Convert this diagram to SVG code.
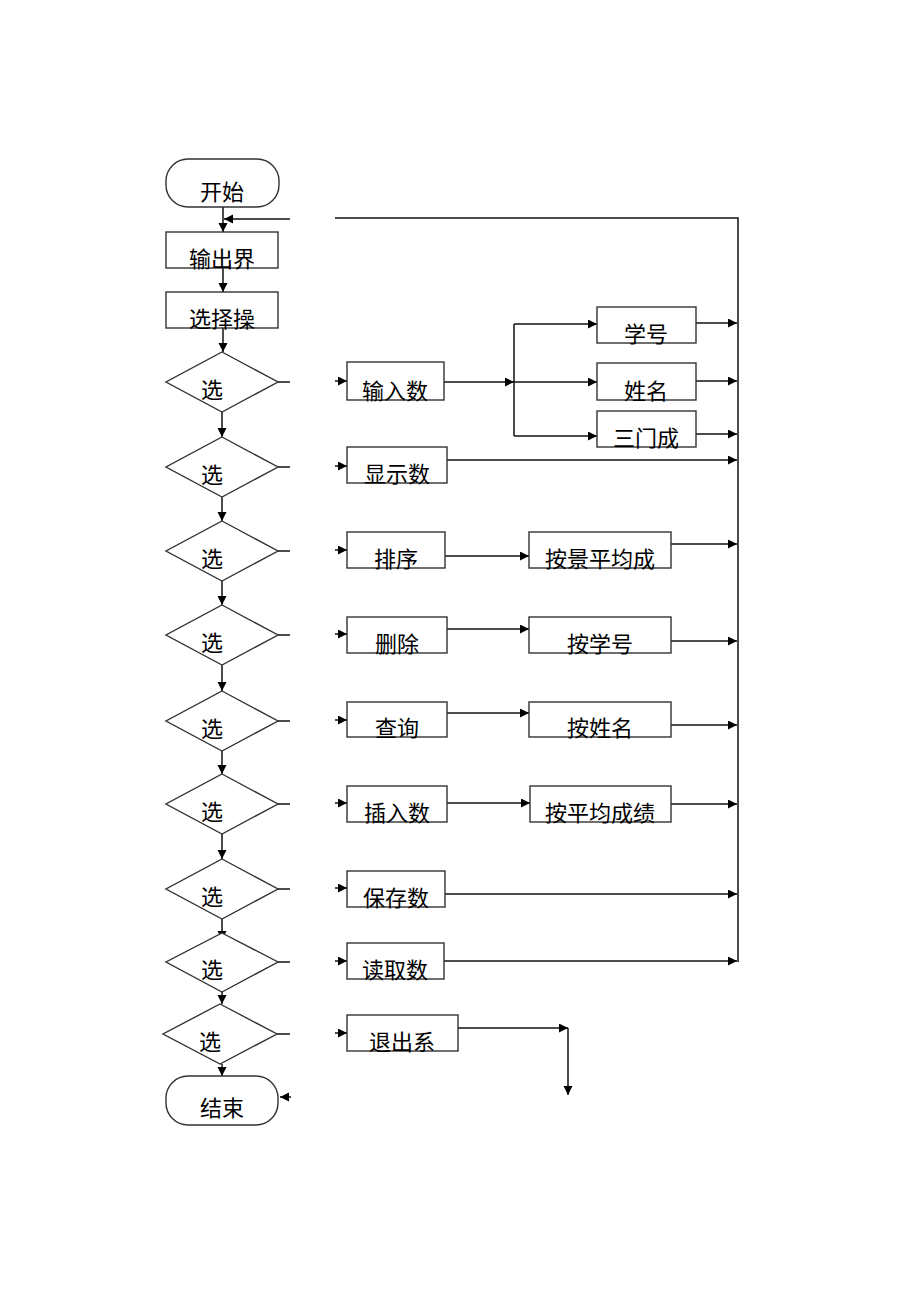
<svg xmlns="http://www.w3.org/2000/svg" width="920" height="1302" viewBox="0 0 920 1302">
<style>
.box{fill:#fff;stroke:#333;stroke-width:1.4}
.t{font-family:"Liberation Sans","Noto Sans CJK SC",sans-serif;font-size:22px;fill:#000;text-anchor:middle}
.c{fill:none;stroke:#111;stroke-width:1.5}
</style>
<defs>
<marker id="a" markerUnits="userSpaceOnUse" markerWidth="11" markerHeight="10" refX="9" refY="4.5" orient="auto"><path d="M0,0 L9,4.5 L0,9 z" fill="#000"/></marker>
</defs>
<rect width="920" height="1302" fill="#fff"/>
<g id="connectors">
<path class="c" marker-end="url(#a)" d="M223,207 L223,232"/>
<path class="c" marker-end="url(#a)" d="M223,268 L223,292"/>
<path class="c" marker-end="url(#a)" d="M223,328 L223,352"/>
<path class="c" marker-end="url(#a)" d="M222,412 L222,437"/>
<path class="c" marker-end="url(#a)" d="M222,497 L222,521"/>
<path class="c" marker-end="url(#a)" d="M222,581 L222,605"/>
<path class="c" marker-end="url(#a)" d="M222,665 L222,691"/>
<path class="c" marker-end="url(#a)" d="M222,751 L222,774"/>
<path class="c" marker-end="url(#a)" d="M222,834 L222,859"/>
<path class="c" marker-end="url(#a)" d="M222,919 L222,940"/>
<path class="c" marker-end="url(#a)" d="M222,992 L222,1004"/>
<path class="c" marker-end="url(#a)" d="M222,1064 L222,1076"/>
<path class="c" d="M278,382 L290,382 M278,467 L290,467 M278,551 L290,551 M278,635 L290,635 M278,721 L290,721 M278,804 L290,804 M278,889 L290,889 M278,962 L290,962 M277,1034 L290,1034"/>
<path class="c" marker-end="url(#a)" d="M335,381 L347,381"/>
<path class="c" marker-end="url(#a)" d="M335,466 L347,466"/>
<path class="c" marker-end="url(#a)" d="M335,550 L347,550"/>
<path class="c" marker-end="url(#a)" d="M335,634 L347,634"/>
<path class="c" marker-end="url(#a)" d="M335,720 L347,720"/>
<path class="c" marker-end="url(#a)" d="M335,803 L347,803"/>
<path class="c" marker-end="url(#a)" d="M335,888 L347,888"/>
<path class="c" marker-end="url(#a)" d="M335,961 L347,961"/>
<path class="c" marker-end="url(#a)" d="M335,1033 L347,1033"/>
<path class="c" marker-end="url(#a)" d="M444,382 L514,382"/>
<path class="c" d="M514,324 L514,436"/>
<path class="c" marker-end="url(#a)" d="M514,324 L597,324"/>
<path class="c" marker-end="url(#a)" d="M514,382 L597,382"/>
<path class="c" marker-end="url(#a)" d="M514,436 L597,436"/>
<path class="c" marker-end="url(#a)" d="M696,323 L737,323"/>
<path class="c" marker-end="url(#a)" d="M696,381 L737,381"/>
<path class="c" marker-end="url(#a)" d="M696,434 L737,434"/>
<path class="c" marker-end="url(#a)" d="M447,460 L737,460"/>
<path class="c" marker-end="url(#a)" d="M445,556 L529,556"/>
<path class="c" marker-end="url(#a)" d="M671,544 L737,544"/>
<path class="c" marker-end="url(#a)" d="M447,629 L529,629"/>
<path class="c" marker-end="url(#a)" d="M671,641 L737,641"/>
<path class="c" marker-end="url(#a)" d="M447,713 L529,713"/>
<path class="c" marker-end="url(#a)" d="M671,725 L737,725"/>
<path class="c" marker-end="url(#a)" d="M447,803 L530,803"/>
<path class="c" marker-end="url(#a)" d="M671,804 L737,804"/>
<path class="c" marker-end="url(#a)" d="M445,894 L737,894"/>
<path class="c" marker-end="url(#a)" d="M444,961 L737,961"/>
<path class="c" marker-end="url(#a)" d="M458,1028 L568,1028"/>
<path class="c" marker-end="url(#a)" d="M568,1028 L568,1095"/>
<path class="c" d="M335,218 L738,218 L738,962"/>
<path class="c" marker-end="url(#a)" d="M290,219 L224,219"/>
<path class="c" marker-end="url(#a)" d="M291,1097 L280,1097"/>
</g>
<g id="start"><rect class="box" x="166" y="159" width="113" height="48" rx="22"/><text class="t" x="222" y="200">开始</text></g>
<g id="output-ui"><rect class="box" x="166" y="232" width="112" height="36"/><text class="t" x="222" y="267">输出界</text></g>
<g id="choose-op"><rect class="box" x="166" y="292" width="112" height="36"/><text class="t" x="222" y="327">选择操</text></g>
<g id="d1"><polygon class="box" points="222,352 278,382 222,412 166,382"/><text class="t" x="212" y="398">选</text></g>
<g id="d2"><polygon class="box" points="222,437 278,467 222,497 166,467"/><text class="t" x="212" y="483">选</text></g>
<g id="d3"><polygon class="box" points="222,521 278,551 222,581 166,551"/><text class="t" x="212" y="567">选</text></g>
<g id="d4"><polygon class="box" points="222,605 278,635 222,665 166,635"/><text class="t" x="212" y="651">选</text></g>
<g id="d5"><polygon class="box" points="222,691 278,721 222,751 166,721"/><text class="t" x="212" y="737">选</text></g>
<g id="d6"><polygon class="box" points="222,774 278,804 222,834 166,804"/><text class="t" x="212" y="820">选</text></g>
<g id="d7"><polygon class="box" points="222,859 278,889 222,919 166,889"/><text class="t" x="212" y="905">选</text></g>
<g id="d8"><polygon class="box" points="222,933 278,962 222,992 166,962"/><text class="t" x="212" y="978">选</text></g>
<g id="d9"><polygon class="box" points="220,1004 277,1034 220,1064 163,1034"/><text class="t" x="210" y="1050">选</text></g>
<g id="end"><rect class="box" x="166" y="1076" width="112" height="49" rx="22"/><text class="t" x="222" y="1116">结束</text></g>
<g id="input"><rect class="box" x="347" y="362" width="97" height="38"/><text class="t" x="395" y="399">输入数</text></g>
<g id="display"><rect class="box" x="347" y="447" width="100" height="36"/><text class="t" x="397" y="482">显示数</text></g>
<g id="sort"><rect class="box" x="347" y="532" width="98" height="36"/><text class="t" x="396" y="567">排序</text></g>
<g id="delete"><rect class="box" x="347" y="617" width="100" height="36"/><text class="t" x="397" y="652">删除</text></g>
<g id="query"><rect class="box" x="347" y="702" width="100" height="35"/><text class="t" x="397" y="736">查询</text></g>
<g id="insert"><rect class="box" x="347" y="786" width="100" height="36"/><text class="t" x="397" y="821">插入数</text></g>
<g id="save"><rect class="box" x="347" y="871" width="98" height="36"/><text class="t" x="396" y="906">保存数</text></g>
<g id="read"><rect class="box" x="347" y="943" width="97" height="36"/><text class="t" x="395" y="978">读取数</text></g>
<g id="exit"><rect class="box" x="347" y="1015" width="111" height="36"/><text class="t" x="402" y="1050">退出系</text></g>
<g id="sno"><rect class="box" x="597" y="307" width="99" height="36"/><text class="t" x="646" y="342">学号</text></g>
<g id="name"><rect class="box" x="597" y="363" width="99" height="37"/><text class="t" x="646" y="399">姓名</text></g>
<g id="scores"><rect class="box" x="597" y="411" width="99" height="36"/><text class="t" x="646" y="446">三门成</text></g>
<g id="by-avg"><rect class="box" x="529" y="532" width="142" height="36"/><text class="t" x="600" y="567">按景平均成</text></g>
<g id="by-sno"><rect class="box" x="529" y="617" width="142" height="36"/><text class="t" x="600" y="652">按学号</text></g>
<g id="by-name"><rect class="box" x="529" y="702" width="142" height="35"/><text class="t" x="600" y="736">按姓名</text></g>
<g id="by-avg-score"><rect class="box" x="530" y="786" width="141" height="36"/><text class="t" x="600" y="821">按平均成绩</text></g>
</svg>
